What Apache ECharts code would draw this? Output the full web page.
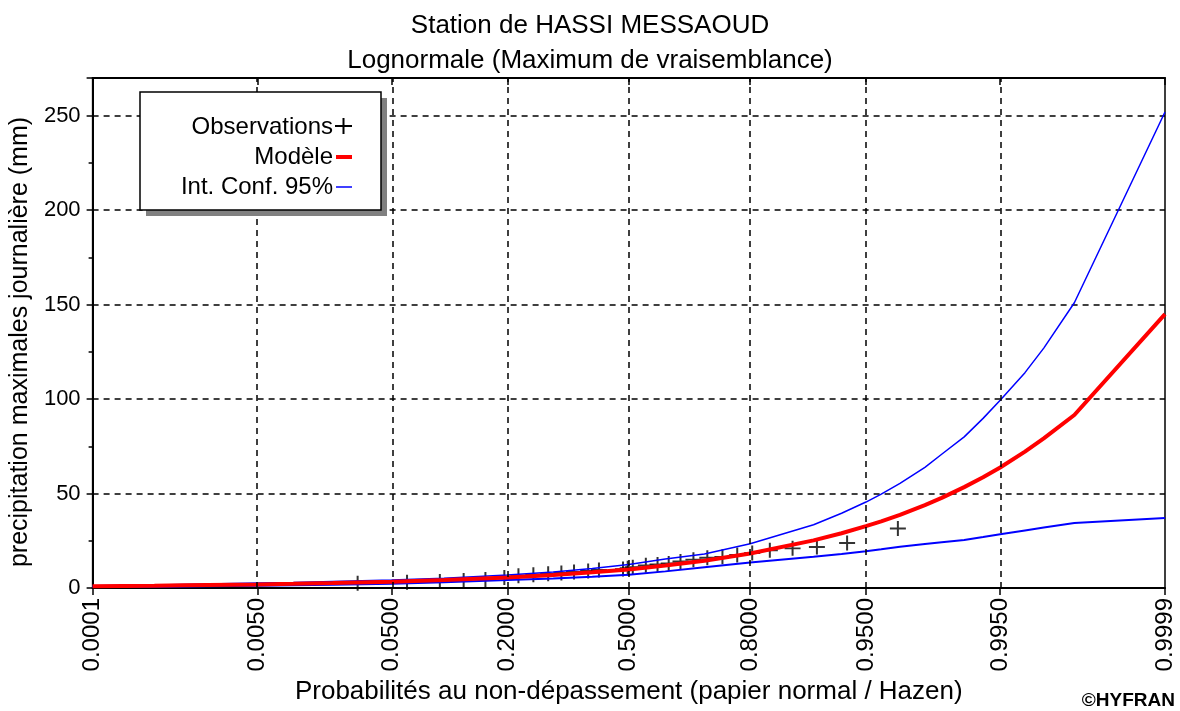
<!DOCTYPE html>
<html>
<head>
<meta charset="utf-8">
<script src="https://cdn.jsdelivr.net/npm/echarts@6/dist/echarts.min.js"></script>
<style>
html,body{margin:0;padding:0;background:#fff;}
#chart{width:1180px;height:711px;}
</style>
</head>
<body>
<div id="chart"></div>
<script>
// ---- data ----
const tickProbs = [0.0001, 0.005, 0.05, 0.2, 0.5, 0.8, 0.95, 0.995, 0.9999];
const tickLabels = ['0.0001', '0.0050', '0.0500', '0.2000', '0.5000', '0.8000', '0.9500', '0.9950', '0.9999'];

const curveProbs  = [0.0001, 0.0005, 0.001, 0.005, 0.01, 0.02, 0.05, 0.1, 0.2, 0.3, 0.4, 0.5, 0.6, 0.7, 0.8, 0.9, 0.93, 0.95, 0.96, 0.97, 0.98, 0.985, 0.99, 0.993, 0.995, 0.997, 0.998, 0.999, 0.9999];
const modelValues = [0.9, 1.2, 1.4, 1.9, 2.2, 2.6, 3.3, 4.2, 5.6, 6.9, 8.3, 9.8, 11.9, 14.4, 18.3, 25.2, 29.0, 32.8, 35.3, 38.7, 43.9, 47.7, 53.4, 58.6, 63.8, 72.2, 79.2, 91.6, 145];
const upperValues = [1.2, 1.6, 1.9, 2.6, 2.9, 3.4, 4.2, 5.2, 6.9, 8.5, 10.3, 12.4, 15.3, 18, 23.4, 33.5, 39.6, 45.5, 49.7, 55.4, 63.9, 70.8, 80, 89.8, 99.4, 114, 127, 151, 252];
const lowerValues = [0.5, 0.7, 0.8, 1.2, 1.4, 1.7, 2.3, 3.0, 4.2, 5.0, 6.0, 7.0, 8.8, 11, 13.5, 16.5, 18, 19.5, 20.5, 21.8, 23.3, 24.2, 25.4, 27, 28.5, 30.5, 32, 34.4, 37];

const obsProbs  = [0.030, 0.062, 0.095, 0.126, 0.160, 0.194, 0.222, 0.254, 0.288, 0.320, 0.352, 0.389, 0.418, 0.484, 0.497, 0.511, 0.547, 0.579, 0.609, 0.640, 0.673, 0.707, 0.742, 0.774, 0.804, 0.836, 0.872, 0.904, 0.935, 0.969];
const obsValues = [2.5, 3, 3.5, 4, 4.5, 5.5, 6.5, 7, 7.5, 8, 8.5, 9, 9.5, 10, 10.5, 11, 12, 12.5, 13, 14, 15, 16, 16.5, 17.5, 18.5, 20, 21, 21.7, 23.8, 31.5];

const titleText = 'Station de HASSI MESSAOUD';
const subTitleText = 'Lognormale (Maximum de vraisemblance)';
const xName = 'Probabilités au non-dépassement (papier normal / Hazen)';
const yName = 'precipitation maximales journalière (mm)';
const legendNames = ['Observations', 'Modèle', 'Int. Conf. 95%'];

// normal-probability paper: axis coordinate = standard normal quantile
function zOf(p) {
  const a = [-3.969683028665376e+01, 2.209460984245205e+02, -2.759285104469687e+02, 1.383577518672690e+02, -3.066479806614716e+01, 2.506628277459239e+00];
  const b = [-5.447609879822406e+01, 1.615858368580409e+02, -1.556989798598866e+02, 6.680131188771972e+01, -1.328068155288572e+01];
  const c = [-7.784894002430293e-03, -3.223964580411365e-01, -2.400758277161838e+00, -2.549732539343734e+00, 4.374664141464968e+00, 2.938163982698783e+00];
  const d = [7.784695709041462e-03, 3.224671290700398e-01, 2.445134137142996e+00, 3.754408661907416e+00];
  const pl = 0.02425;
  let q, r;
  if (p < pl) {
    q = Math.sqrt(-2 * Math.log(p));
    return (((((c[0]*q+c[1])*q+c[2])*q+c[3])*q+c[4])*q+c[5]) / ((((d[0]*q+d[1])*q+d[2])*q+d[3])*q+1);
  } else if (p <= 1 - pl) {
    q = p - 0.5; r = q*q;
    return (((((a[0]*r+a[1])*r+a[2])*r+a[3])*r+a[4])*r+a[5])*q / (((((b[0]*r+b[1])*r+b[2])*r+b[3])*r+b[4])*r+1);
  } else {
    q = Math.sqrt(-2 * Math.log(1 - p));
    return -(((((c[0]*q+c[1])*q+c[2])*q+c[3])*q+c[4])*q+c[5]) / ((((d[0]*q+d[1])*q+d[2])*q+d[3])*q+1);
  }
}

const tickZ = tickProbs.map(zOf);
const xMin = tickZ[0], xMax = tickZ[tickZ.length - 1];
const pairs = (ps, vs) => ps.map((p, i) => [zOf(p), vs[i]]);

function labelFor(v) {
  let best = 0, bd = Infinity;
  tickZ.forEach((z, i) => { const dd = Math.abs(z - v); if (dd < bd) { bd = dd; best = i; } });
  return bd < 1e-6 ? tickLabels[best] : '';
}

const FONT = 'Liberation Sans, Arial, sans-serif';
const chart = echarts.init(document.getElementById('chart'), null, {renderer: 'canvas'});

const gridLines = tickZ.slice(1, -1).map(z => ({xAxis: z}));

chart.setOption({
  backgroundColor: '#fff',
  animation: false,
  title: {
    text: titleText + '\n' + subTitleText,
    left: 'center', top: 3,
    textStyle: {fontFamily: FONT, fontSize: 26, fontWeight: 'normal', color: '#000', lineHeight: 35}
  },
  grid: {left: 90, right: 15, top: 78, bottom: 123, show: true, borderColor: '#000', borderWidth: 1.5, backgroundColor: 'transparent'},
  xAxis: [{
    type: 'value', min: xMin, max: xMax, position: 'bottom',
    name: xName, nameLocation: 'middle', nameGap: 88,
    nameTextStyle: {fontFamily: FONT, fontSize: 26, color: '#000'},
    axisLine: {show: true, onZero: false, lineStyle: {color: '#000', width: 2}},
    axisTick: {show: true, customValues: tickZ, length: 7, lineStyle: {color: '#000', width: 1.5}},
    axisLabel: {customValues: tickZ, rotate: 90, formatter: labelFor, fontFamily: FONT, fontSize: 24, color: '#000', margin: 10},
    splitLine: {show: false}
  }, {
    type: 'value', min: xMin, max: xMax, position: 'top',
    axisLine: {show: true, onZero: false, lineStyle: {color: '#000', width: 2}},
    axisTick: {show: true, inside: true, customValues: tickZ, length: 7, lineStyle: {color: '#000', width: 1.5}},
    axisLabel: {show: false},
    splitLine: {show: false}
  }],
  yAxis: {
    type: 'value', min: 0, max: 270, interval: 50,
    name: yName, nameLocation: 'middle', nameGap: 56,
    nameTextStyle: {fontFamily: FONT, fontSize: 25, color: '#000', padding: [0, 18, 0, 0]},
    axisLine: {show: true, onZero: false, lineStyle: {color: '#000', width: 2}},
    axisTick: {show: true, length: 6, lineStyle: {color: '#000', width: 1.5}},
    minorTick: {show: true, splitNumber: 2, length: 4, lineStyle: {color: '#000', width: 1.5}},
    axisLabel: {fontFamily: FONT, fontSize: 22, color: '#000', margin: 12, formatter: v => (v % 50 === 0 ? String(v) : '')},
    splitLine: {show: true, lineStyle: {color: '#000', width: 1.5, type: [6, 5]}}
  },
  series: [
    {
      name: legendNames[0], type: 'scatter', xAxisIndex: 0,
      data: pairs(obsProbs, obsValues),
      symbol: 'path://M7,0H9V7H16V9H9V16H7V9H0V7H7Z',
      symbolSize: [16, 15],
      itemStyle: {color: '#000'},
      z: 2,
      markLine: {
        silent: true, symbol: 'none', animation: false,
        label: {show: false},
        lineStyle: {color: '#000', width: 1.5, type: [6, 5]},
        data: gridLines
      }
    },
    {
      name: legendNames[2], type: 'line', xAxisIndex: 0, data: pairs(curveProbs, upperValues),
      showSymbol: false, symbol: 'none', lineStyle: {color: '#0000ff', width: 1.5}, z: 3
    },
    {
      name: legendNames[2] + ' inf', type: 'line', xAxisIndex: 0, data: pairs(curveProbs, lowerValues),
      showSymbol: false, symbol: 'none', lineStyle: {color: '#0000ff', width: 2}, z: 3
    },
    {
      name: legendNames[1], type: 'line', xAxisIndex: 0, data: pairs(curveProbs, modelValues),
      showSymbol: false, symbol: 'none', lineStyle: {color: '#ff0000', width: 4}, z: 4
    }
  ],
  graphic: [
    {type: 'rect', shape: {x: 146, y: 98, width: 241, height: 118}, style: {fill: '#808080'}, z: 10},
    {type: 'rect', shape: {x: 140, y: 92, width: 241, height: 118}, style: {fill: '#fff', stroke: '#000', lineWidth: 1.5}, z: 11},
    {type: 'text', x: 333, y: 127, style: {text: legendNames[0], align: 'right', verticalAlign: 'middle', font: '24px ' + FONT, fill: '#000'}, z: 12},
    {type: 'text', x: 333, y: 157, style: {text: legendNames[1], align: 'right', verticalAlign: 'middle', font: '24px ' + FONT, fill: '#000'}, z: 12},
    {type: 'text', x: 333, y: 187, style: {text: legendNames[2], align: 'right', verticalAlign: 'middle', font: '24px ' + FONT, fill: '#000'}, z: 12},
    {type: 'line', shape: {x1: 335, y1: 126, x2: 352, y2: 126}, style: {stroke: '#000', lineWidth: 2}, z: 12},
    {type: 'line', shape: {x1: 343.5, y1: 118, x2: 343.5, y2: 134}, style: {stroke: '#000', lineWidth: 2}, z: 12},
    {type: 'line', shape: {x1: 336, y1: 157, x2: 352, y2: 157}, style: {stroke: '#ff0000', lineWidth: 4}, z: 12},
    {type: 'line', shape: {x1: 336, y1: 187, x2: 352, y2: 187}, style: {stroke: '#0000ff', lineWidth: 1.5}, z: 12},
    {type: 'text', right: 5, bottom: 1, style: {text: '©HYFRAN', font: 'bold 19px ' + FONT, fill: '#000'}, z: 12}
  ]
});
</script>
</body>
</html>
